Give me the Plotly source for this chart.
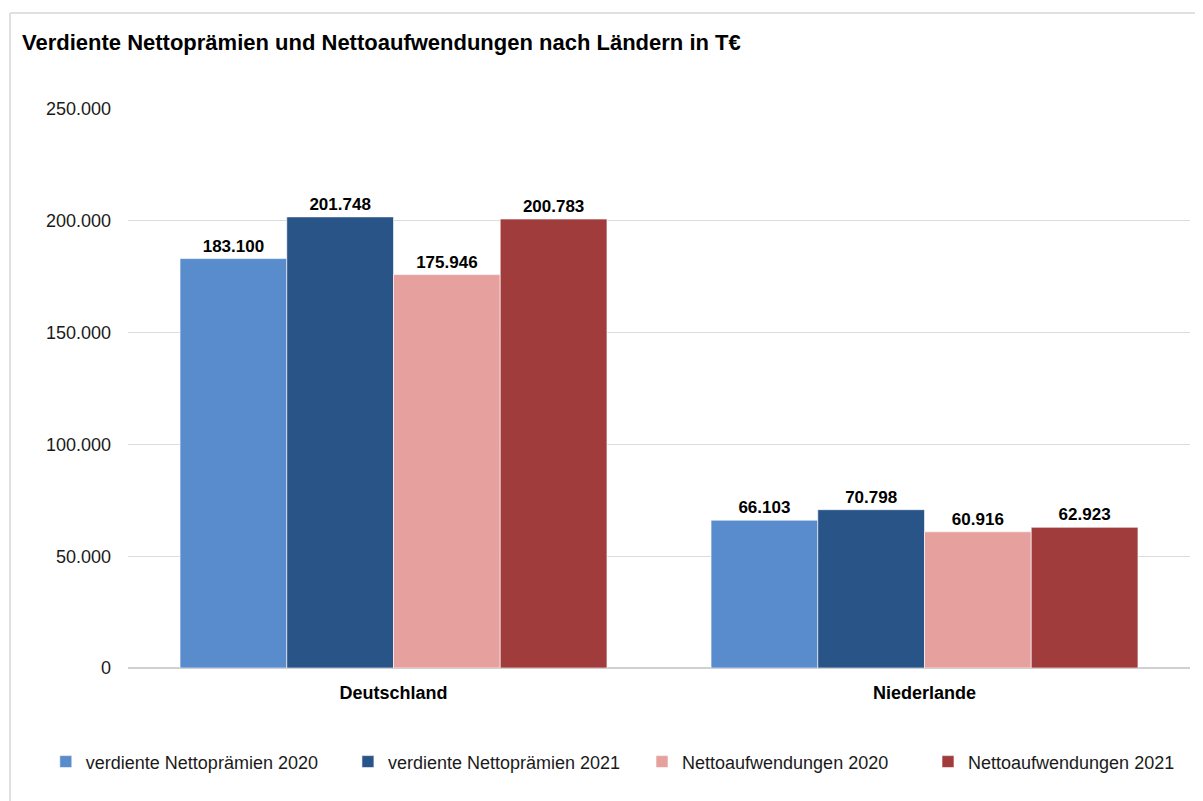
import plotly.graph_objects as go

countries = ['Deutschland', 'Niederlande']
series_names = ['verdiente Nettoprämien 2020',
                'verdiente Nettoprämien 2021',
                'Nettoaufwendungen 2020',
                'Nettoaufwendungen 2021']
praemien_2020 = [183100, 66103]
praemien_2021 = [201748, 70798]
aufwand_2020 = [175946, 60916]
aufwand_2021 = [200783, 62923]
y_ticks = [0, 50000, 100000, 150000, 200000, 250000]

colors = ['#588ccc', '#285487', '#e6a19f', '#a03c3c']
values = [praemien_2020, praemien_2021, aufwand_2020, aufwand_2021]
legend_ids = ['legend', 'legend2', 'legend3', 'legend4']
legend_x = [-0.0774, 0.2071, 0.4840, 0.7533]

fig = go.Figure()
for name, vals, col, lg in zip(series_names, values, colors, legend_ids):
    fig.add_trace(go.Bar(
        x=countries,
        y=vals,
        name=name,
        legend=lg,
        marker=dict(color=col, line=dict(color='rgba(255,255,255,0.6)', width=1)),
        texttemplate='%{y:,}',
        textposition='outside',
        textfont=dict(family='Liberation Sans, Arial', size=17, color='#000000',
                      weight='bold'),
        cliponaxis=False,
    ))

# one legend per series so the entries can be spaced like the original
legends = {}
for lg, lx in zip(legend_ids, legend_x):
    legends[lg] = dict(orientation='h', x=lx, xanchor='left', y=-0.168, yanchor='middle',
                       itemclick=False, bgcolor='rgba(0,0,0,0)',
                       font=dict(size=18, color='#1a1a1a'))

# the page has an 8px body margin, so the figure is sized/offset to compensate
fig.update_layout(
    width=1195,
    height=793,
    barmode='group',
    bargap=0.196,
    bargroupgap=0,
    separators=',.',
    paper_bgcolor='white',
    plot_bgcolor='white',
    margin=dict(l=120, r=13, t=101, b=133),
    font=dict(family='Liberation Sans, Arial', size=18, color='#1a1a1a'),
    title=dict(text='<b>Verdiente Nettoprämien und Nettoaufwendungen nach Ländern in T€</b>',
               x=14 / 1195, xanchor='left', y=1 - 34 / 793, yanchor='middle',
               font=dict(family='Liberation Sans, Arial', size=22, color='#000000')),
    xaxis=dict(showline=False, ticks='', ticklabelstandoff=12,
               tickfont=dict(size=18, color='#000000'),
               tickvals=countries, ticktext=['<b>%s</b>' % c for c in countries]),
    yaxis=dict(range=[0, 250000], tickvals=y_ticks, tickformat=',',
               gridcolor='#dcdcdc', gridwidth=1, zeroline=True, zerolinecolor='#d0d0d0',
               zerolinewidth=2, ticks='', ticklabelstandoff=16,
               tickfont=dict(size=18, color='#1a1a1a')),
    showlegend=True,
    **legends,
)

# light frame around the chart
fig.add_shape(type='line', xref='paper', yref='paper',
              x0=-118 / 1062, x1=1.2, y0=(668 - 13) / 559, y1=(668 - 13) / 559,
              line=dict(color='#e0e0e0', width=2))
fig.add_shape(type='line', xref='paper', yref='paper',
              x0=-118 / 1062, x1=-118 / 1062, y0=(668 - 13) / 559, y1=-0.5,
              line=dict(color='#e0e0e0', width=2))

fig.write_html('out.html')
